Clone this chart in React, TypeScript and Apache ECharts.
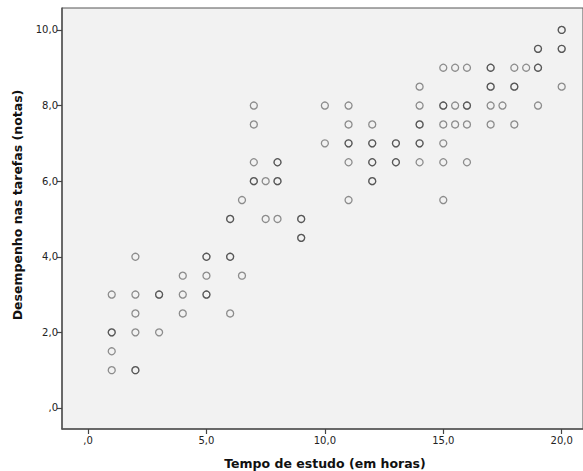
import React, { useEffect, useRef } from "react";
import * as echarts from "echarts";

// Hours of study (x) and task score (y); repeated pairs are overlapping cases
const hoursStudied: number[] = [
  1, 1, 1, 1, 1,
  2, 2, 2, 2, 2, 2,
  3, 3, 3,
  4, 4, 4,
  5, 5, 5, 5, 5,
  6, 6, 6, 6, 6,
  6.5, 6.5,
  7, 7, 7, 7, 7,
  7.5, 7.5,
  8, 8, 8, 8, 8,
  9, 9, 9, 9,
  10, 10,
  11, 11, 11, 11, 11, 11,
  12, 12, 12, 12, 12, 12, 12,
  13, 13, 13, 13,
  14, 14, 14, 14, 14, 14, 14,
  15, 15, 15, 15, 15, 15, 15,
  15.5, 15.5, 15.5,
  16, 16, 16, 16, 16,
  17, 17, 17, 17, 17, 17,
  17.5,
  18, 18, 18, 18,
  18.5,
  19, 19, 19, 19, 19,
  20, 20, 20, 20, 20,
];
const taskScores: number[] = [
  3, 2, 2, 1.5, 1,
  4, 3, 2.5, 2, 1, 1,
  3, 3, 2,
  3.5, 3, 2.5,
  4, 4, 3.5, 3, 3,
  5, 5, 4, 4, 2.5,
  5.5, 3.5,
  8, 7.5, 6.5, 6, 6,
  6, 5,
  6.5, 6.5, 6, 6, 5,
  5, 5, 4.5, 4.5,
  8, 7,
  8, 7.5, 7, 7, 6.5, 5.5,
  7.5, 7, 7, 6.5, 6.5, 6, 6,
  7, 7, 6.5, 6.5,
  8.5, 8, 7.5, 7.5, 7, 7, 6.5,
  9, 8, 8, 7.5, 7, 6.5, 5.5,
  9, 8, 7.5,
  9, 8, 8, 7.5, 6.5,
  9, 9, 8.5, 8.5, 8, 7.5,
  8,
  9, 8.5, 8.5, 7.5,
  9,
  9.5, 9.5, 9, 9, 8,
  10, 10, 9.5, 9.5, 8.5,
];
const xTickValues: number[] = [0, 5, 10, 15, 20];
const yTickValues: number[] = [0, 2, 4, 6, 8, 10];
const xTitle = "Tempo de estudo (em horas)";
const yTitle = "Desempenho nas tarefas (notas)";

const fmt = (v: number) => (v === 0 ? ",0" : v.toFixed(1).replace(".", ","));

export default function App() {
  const ref = useRef<HTMLDivElement>(null);
  useEffect(() => {
    if (!ref.current) return;
    const chart = echarts.init(ref.current, undefined, { renderer: "svg" });
    const data = hoursStudied.map((h, i) => [h, taskScores[i]]);
    const font = "DejaVu Sans";
    chart.setOption({
      animation: false,
      backgroundColor: "#ffffff",
      grid: {
        left: 62,
        top: 8,
        width: 524,
        height: 421,
        show: true,
        backgroundColor: "#f2f2f2",
        borderColor: "#555555",
        borderWidth: 1,
      },
      xAxis: {
        type: "value",
        min: -1.1,
        max: 20.9,
        splitLine: { show: false },
        axisLine: { show: true, onZero: false, lineStyle: { color: "#555555", width: 1.5 } },
        axisTick: {
          show: true,
          length: 5,
          customValues: xTickValues,
          lineStyle: { color: "#444444", width: 1.2 },
        },
        axisLabel: {
          customValues: xTickValues,
          formatter: fmt,
          color: "#222222",
          fontFamily: font,
          fontSize: 10,
          margin: 6,
        },
      },
      yAxis: {
        type: "value",
        min: -0.556,
        max: 10.58,
        splitLine: { show: false },
        axisLine: { show: true, onZero: false, lineStyle: { color: "#555555", width: 1.5 } },
        axisTick: {
          show: true,
          length: 5,
          customValues: yTickValues,
          lineStyle: { color: "#444444", width: 1.2 },
        },
        axisLabel: {
          customValues: yTickValues,
          formatter: fmt,
          color: "#222222",
          fontFamily: font,
          fontSize: 10,
          margin: 4,
        },
      },
      graphic: [
        {
          type: "text",
          x: 325,
          y: 463,
          style: {
            text: xTitle,
            fontFamily: font,
            fontWeight: "bold",
            fontSize: 12.5,
            fill: "#111111",
            align: "center",
            verticalAlign: "middle",
          },
        },
        {
          type: "text",
          x: 17,
          y: 205,
          rotation: Math.PI / 2,
          style: {
            text: yTitle,
            fontFamily: font,
            fontWeight: "bold",
            fontSize: 12.5,
            fill: "#111111",
            align: "center",
            verticalAlign: "middle",
          },
        },
      ],
      series: [
        {
          type: "scatter",
          data,
          symbol: "circle",
          symbolSize: 7,
          itemStyle: {
            color: "rgba(0,0,0,0)",
            borderColor: "rgba(30,30,30,0.6)",
            borderWidth: 1.3,
          },
        },
      ],
    });
    return () => chart.dispose();
  }, []);
  return (
    <div
      ref={ref}
      style={{ position: "fixed", left: 0, top: 0, width: 583, height: 471, background: "#fff" }}
    />
  );
}
